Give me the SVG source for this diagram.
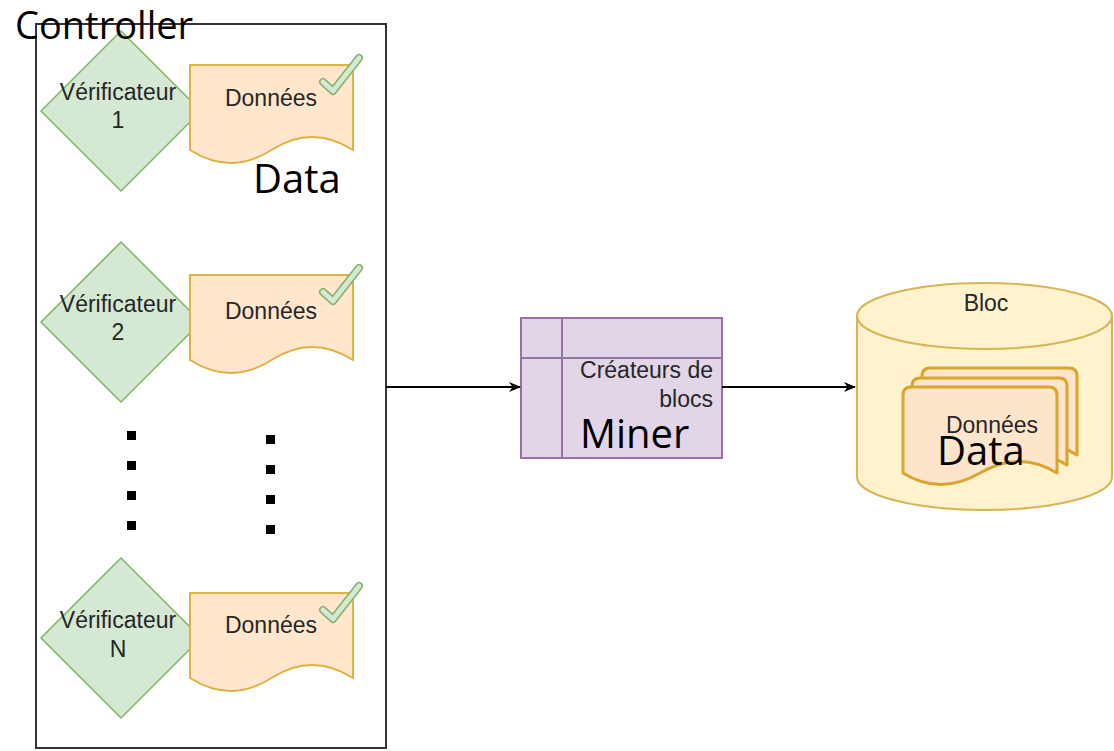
<svg xmlns="http://www.w3.org/2000/svg" width="1114" height="751" viewBox="0 0 1114 751">
<defs>
<style>
.dia{fill:#d5e8d4;stroke:#82b366;stroke-width:1.5}
.doc{fill:#ffe6cc;stroke:#e0b040;stroke-width:2}
.sdoc{fill:#fde5cb;stroke:#d9a52c;stroke-width:3;stroke-linejoin:round}
.lbl{font-family:"Liberation Sans",Arial,sans-serif;font-size:23px;fill:#262626;text-anchor:middle}
.big{font-family:"Open Sans","Liberation Sans",sans-serif;font-size:40px;fill:#000}
.chk1{fill:none;stroke:#82b366;stroke-width:8;stroke-linecap:round;stroke-linejoin:round}
.chk2{fill:none;stroke:#d5e8d4;stroke-width:5;stroke-linecap:round;stroke-linejoin:round}
.dot{fill:#000}
.conn{stroke:#000;stroke-width:2;fill:none}
</style>
<marker id="arr" viewBox="0 0 12 10" refX="11" refY="5" markerWidth="12" markerHeight="10" markerUnits="userSpaceOnUse" orient="auto">
<path d="M0,0 L12,5 L0,10 L3.5,5 Z" fill="#000"/>
</marker>
</defs>
<rect width="1114" height="751" fill="#fff"/>

<g id="controller">
<rect x="36" y="24" width="350" height="724" fill="#fff" stroke="#333" stroke-width="2"/>
</g>

<g id="verif1">
<polygon class="dia" points="121,31 201,111 121,191 41,111"/>
<text class="lbl" x="118" y="100">Vérificateur</text>
<text class="lbl" x="118" y="128">1</text>
</g>
<g id="data1">
<path class="doc" d="M190,65 H353 V150 Q312,124 271.5,150 Q231,176 190,150 Z"/>
<text class="lbl" x="271" y="106">Données</text>
<polyline class="chk1" points="323,82 333,91 359,58"/>
<polyline class="chk2" points="323,82 333,91 359,58"/>
</g>

<g id="verif2">
<polygon class="dia" points="121,242 201,322 121,402 41,322"/>
<text class="lbl" x="118" y="312">Vérificateur</text>
<text class="lbl" x="118" y="340">2</text>
</g>
<g id="data2">
<path class="doc" d="M190,275 H353 V360 Q312,334 271.5,360 Q231,386 190,360 Z"/>
<text class="lbl" x="271" y="319">Données</text>
<polyline class="chk1" points="323,292 333,301 359,268"/>
<polyline class="chk2" points="323,292 333,301 359,268"/>
</g>

<g id="dots">
<rect class="dot" x="127" y="431" width="9" height="9"/>
<rect class="dot" x="127" y="461" width="9" height="9"/>
<rect class="dot" x="127" y="491" width="9" height="9"/>
<rect class="dot" x="127" y="521" width="9" height="9"/>
<rect class="dot" x="266" y="435" width="9" height="9"/>
<rect class="dot" x="266" y="465" width="9" height="9"/>
<rect class="dot" x="266" y="495" width="9" height="9"/>
<rect class="dot" x="266" y="525" width="9" height="9"/>
</g>

<g id="verifN">
<polygon class="dia" points="121,558 201,638 121,718 41,638"/>
<text class="lbl" x="118" y="628">Vérificateur</text>
<text class="lbl" x="118" y="657">N</text>
</g>
<g id="dataN">
<path class="doc" d="M190,593 H353 V678 Q312,652 271.5,678 Q231,704 190,678 Z"/>
<text class="lbl" x="271" y="633">Données</text>
<polyline class="chk1" points="323,610 333,619 359,586"/>
<polyline class="chk2" points="323,610 333,619 359,586"/>
</g>

<g id="miner">
<rect x="521" y="318" width="201" height="140" fill="#e1d5e7" stroke="#9673a6" stroke-width="2"/>
<line x1="562" y1="318" x2="562" y2="458" stroke="#9673a6" stroke-width="2"/>
<line x1="521" y1="358" x2="722" y2="358" stroke="#9673a6" stroke-width="2"/>
<text class="lbl" x="713" y="378" style="text-anchor:end">Créateurs de</text>
<text class="lbl" x="713" y="407" style="text-anchor:end">blocs</text>
</g>

<g id="bloc">
<path d="M857,316 A127.5,33 0 0,1 1112,316 V477 A127.5,33 0 0,1 857,477 Z" fill="#fff2cc" stroke="#d6b656" stroke-width="2"/>
<path d="M857,316 A127.5,33 0 0,0 1112,316" fill="none" stroke="#d6b656" stroke-width="2"/>
<text class="lbl" x="986" y="311">Bloc</text>
<path class="sdoc" d="M930,368 H1069 Q1077,368 1077,376 V455 Q1040,432 1000,455 Q960,478 922,455 V376 Q922,368 930,368 Z"/>
<path class="sdoc" d="M920,378 H1059 Q1067,378 1067,386 V465 Q1030,442 990,465 Q950,488 912,465 V386 Q912,378 920,378 Z"/>
<path class="sdoc" d="M911,387 H1049 Q1057,387 1057,395 V473 Q1020,450 980,473 Q940,496 903,473 V395 Q903,387 911,387 Z"/>
<text class="lbl" x="992" y="433">Données</text>
</g>

<g id="connectors">
<line class="conn" x1="386" y1="387" x2="520" y2="387" marker-end="url(#arr)"/>
<line class="conn" x1="722" y1="387" x2="855" y2="387" marker-end="url(#arr)"/>
</g>

<g id="overlay-labels">
<text class="big" x="15" y="39" style="font-size:38px">Controller</text>
<text class="big" x="253" y="193">Data</text>
<text class="big" x="580" y="448">Miner</text>
<text class="big" x="937" y="465">Data</text>
</g>
</svg>
